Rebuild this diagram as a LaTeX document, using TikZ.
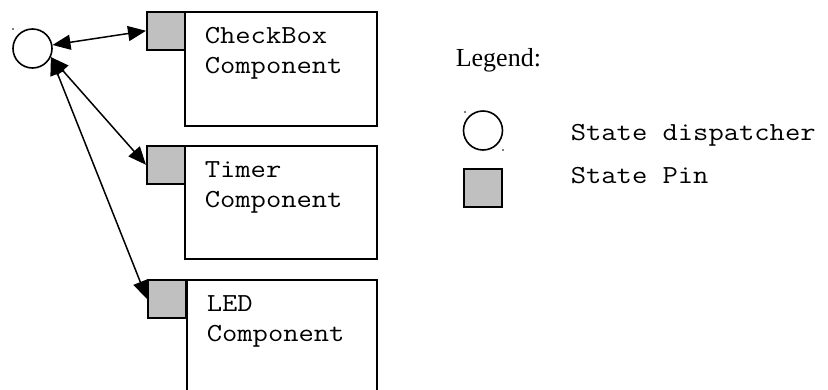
\documentclass[tikz,border=0pt]{standalone}
\usepackage{fontspec}
\setmainfont{Liberation Serif}
\newfontfamily\codefont[FakeStretch=1.143]{Latin Modern Mono}
\usetikzlibrary{arrows.meta}
\definecolor{pingray}{RGB}{192,192,192}
\begin{document}
\begin{tikzpicture}[x=1pt,y=-1pt,
  line width=1.6pt,
  compbox/.style={draw, anchor=north west, inner sep=0pt, minimum width=192pt},
  pin/.style={draw, fill=pingray, inner sep=0pt, minimum size=38pt, anchor=north west},
  dispatcher/.style={draw, circle, inner sep=0pt, minimum size=39pt},
  codetxt/.style={font=\codefont\fontsize{26}{30}\selectfont, inner sep=0pt, anchor=base west},
  tip/.tip={Triangle[length=18pt,width=15pt]},
  link/.style={tip-tip, line width=1.5pt},
  speck/.style={fill, circle, inner sep=0pt, minimum size=1.6pt}
]
\useasboundingbox (0,0) rectangle (828,389);
\clip (0,0) rectangle (828,389);

% component boxes
\node[compbox, minimum height=114pt] (cbox) at (184,11) {};
\node[compbox, minimum height=113pt] (tbox) at (184,145) {};
\node[compbox, minimum width=190pt, minimum height=140pt] (lbox) at (186,279) {};

% component titles
\node[codetxt] (cb1) at (204,43) {CheckBox};
\node[codetxt] (cb2) at (204,73) {Component};
\node[codetxt] (tm1) at (204,177) {Timer};
\node[codetxt] (tm2) at (204,207) {Component};
\node[codetxt] (ld1) at (206,311) {LED};
\node[codetxt] (ld2) at (206,341) {Component};

% state pins
\node[pin] (pin1) at (146,11) {};
\node[pin] (pin2) at (146,145) {};
\node[pin] (pin3) at (147,279) {};

% state dispatcher
\node[dispatcher] (disp) at (32.5,48.5) {};
\node[speck] (dsp1) at (13,29) {};
\node[speck] (dsp2) at (52,68) {};

% connections
\draw[link] (disp.10) -- (pin1.west);
\draw[link] (disp.-25) -- (pin2.west);
\draw[link] (disp.-25) -- (pin3.west);

% legend
\node[font=\fontsize{26}{30}\selectfont, inner sep=0pt, anchor=base west] (legend) at (455,66) {Legend:};
\node[dispatcher] (ldisp) at (483,130.5) {};
\node[speck] (lsp1) at (465,112) {};
\node[speck] (lsp2) at (503,150) {};
\node[pin] (lpin) at (463,168) {};
\node[codetxt] (ltxt1) at (570,140) {State dispatcher};
\node[codetxt] (ltxt2) at (570,183) {State Pin};
\end{tikzpicture}
\end{document}
